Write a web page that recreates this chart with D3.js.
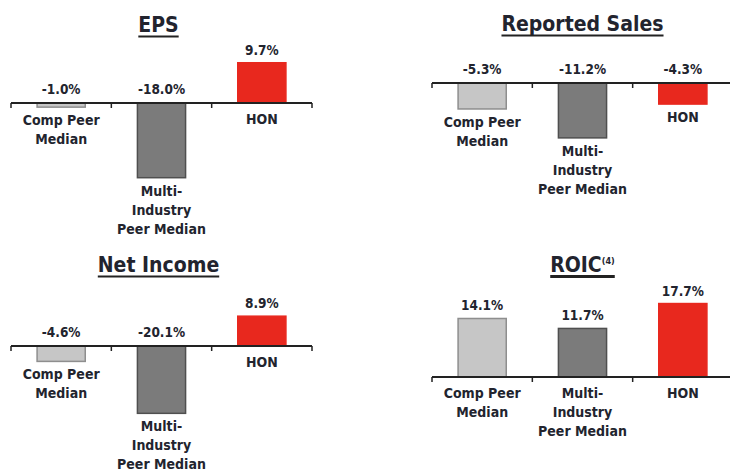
<!DOCTYPE html>
<html>
<head>
<meta charset="utf-8">
<script src="https://cdn.jsdelivr.net/npm/d3@7"></script>
<style>
  body { margin: 0; background: #fff; }
  text { font-family: "DejaVu Sans Condensed", "DejaVu Sans", sans-serif; font-weight: bold; fill: #22242e; }
</style>
</head>
<body>
<svg id="chart" width="730" height="472"></svg>
<script>
// categories + values per panel
const categories = ["Comp Peer Median", "Multi-Industry Peer Median", "HON"];
const categoryLines = [["Comp Peer", "Median"], ["Multi-", "Industry", "Peer Median"], ["HON"]];
const epsValues = [-1.0, -18.0, 9.7];
const salesValues = [-5.3, -11.2, -4.3];
const netIncomeValues = [-4.6, -20.1, 8.9];
const roicValues = [14.1, 11.7, 17.7];
const valueLabels = {
    eps: ["-1.0%", "-18.0%", "9.7%"],
    sales: ["-5.3%", "-11.2%", "-4.3%"],
    netIncome: ["-4.6%", "-20.1%", "8.9%"],
    roic: ["14.1%", "11.7%", "17.7%"]
};

const fills = ["#c6c6c6", "#7b7b7b", "#e8281e"];
const strokes = ["#8e8e8e", "#4f4f4f", "#e8281e"];

// Layout der vier Panels
const panels = [
    { title: "EPS", values: epsValues, labels: valueLabels.eps, x0: 11, x1: 312, axisY: 103, pxPerUnit: 4.15, titleY: 32 },
    { title: "Reported Sales", values: salesValues, labels: valueLabels.sales, x0: 432, x1: 733, axisY: 83, pxPerUnit: 4.9, titleY: 31 },
    { title: "Net Income", values: netIncomeValues, labels: valueLabels.netIncome, x0: 11, x1: 312, axisY: 346, pxPerUnit: 3.35, titleY: 272 },
    { title: "ROIC", sup: "(4)", values: roicValues, labels: valueLabels.roic, x0: 432, x1: 733, axisY: 377, pxPerUnit: 4.15, titleY: 272 }
];

const svg = d3.select("#chart");

panels.forEach(p => {
    const g = svg.append("g");

    const x = d3.scaleBand()
        .domain(categories)
        .range([p.x0, p.x1])
        .paddingInner(0.52)
        .paddingOuter(0.26);

    const y = d3.scaleLinear()
        .domain([0, 10])
        .range([p.axisY, p.axisY - 10 * p.pxPerUnit]);

    // Titel mit Unterstrich
    const cx = (p.x0 + p.x1) / 2 - (p.x0 > 300 ? 0 : 3);
    const title = g.append("text")
        .attr("x", cx)
        .attr("y", p.titleY)
        .attr("text-anchor", "middle")
        .style("font-size", "21px");
    title.append("tspan").text(p.title);
    if (p.sup) {
        title.append("tspan")
            .attr("dy", -8)
            .style("font-size", "9px")
            .text(p.sup);
    }
    const bb = title.node().getBBox();
    g.append("line")
        .attr("x1", bb.x).attr("x2", bb.x + bb.width)
        .attr("y1", p.titleY + 4.5).attr("y2", p.titleY + 4.5)
        .attr("stroke", "#222")
        .attr("stroke-width", p.sup ? 3 : 2);

    // Balken
    g.selectAll("rect")
        .data(p.values)
        .enter()
        .append("rect")
        .attr("x", (d, i) => x(categories[i]))
        .attr("width", x.bandwidth())
        .attr("y", d => Math.min(y(d), y(0)))
        .attr("height", d => Math.abs(y(d) - y(0)))
        .attr("fill", (d, i) => fills[i])
        .attr("stroke", (d, i) => strokes[i])
        .attr("stroke-width", 1.5);

    // Achse mit Ticks an den Bandgrenzen
    const step = x.step();
    const tickXs = d3.range(4).map(i => p.x0 + i * step);
    g.append("line")
        .attr("x1", p.x0).attr("x2", p.x1)
        .attr("y1", y(0)).attr("y2", y(0))
        .attr("stroke", "#222").attr("stroke-width", 2);
    g.selectAll(".tick")
        .data(tickXs)
        .enter()
        .append("line")
        .attr("class", "tick")
        .attr("x1", d => d).attr("x2", d => d)
        .attr("y1", y(0)).attr("y2", y(0) + 5)
        .attr("stroke", "#222").attr("stroke-width", 1.5);

    // Wertbeschriftungen
    g.selectAll(".val")
        .data(p.values)
        .enter()
        .append("text")
        .attr("class", "val")
        .attr("x", (d, i) => x(categories[i]) + x.bandwidth() / 2)
        .attr("y", d => d >= 0 ? y(d) - 8 : y(0) - 9)
        .attr("text-anchor", "middle")
        .style("font-size", "13.5px")
        .text((d, i) => p.labels[i]);

    // Kategorienamen unter Achse / Balken
    p.values.forEach((v, i) => {
        const bottom = Math.max(y(0), y(v));
        const base = Math.max(y(0) + 21, bottom + 18);
        const t = g.append("text")
            .attr("text-anchor", "middle")
            .style("font-size", "14px");
        categoryLines[i].forEach((line, j) => {
            t.append("tspan")
                .attr("x", x(categories[i]) + x.bandwidth() / 2)
                .attr("y", base + j * 19)
                .text(line);
        });
    });
});
</script>
</body>
</html>
